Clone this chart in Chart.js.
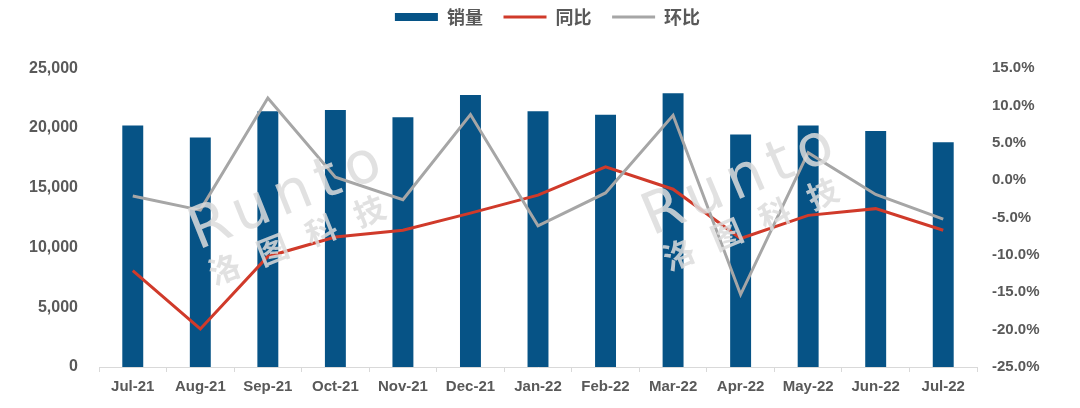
<!DOCTYPE html>
<html>
<head>
<meta charset="utf-8">
<script src="https://cdn.jsdelivr.net/npm/chart.js@4.4.1/dist/chart.umd.min.js"></script>
<style>
html,body{margin:0;padding:0;background:#fff;}
#wrap{width:1080px;height:408px;position:relative;}
</style>
</head>
<body>
<div id="wrap"><canvas id="c" width="1080" height="408"></canvas></div>
<script>
const categories = ['Jul-21','Aug-21','Sep-21','Oct-21','Nov-21','Dec-21','Jan-22','Feb-22','Mar-22','Apr-22','May-22','Jun-22','Jul-22'];
const sales = [20200, 19200, 21400, 21500, 20900, 22750, 21400, 21100, 22900, 19450, 20200, 19750, 18800];
const yoy = [-12.1, -19.9, -10.2, -7.6, -6.7, -4.4, -2.0, 1.8, -1.2, -7.8, -4.7, -3.8, -6.7];
const mom = [-2.1, -4.0, 11.0, 0.4, -2.6, 8.8, -6.1, -1.7, 8.7, -15.3, 3.7, -1.9, -5.2];
const leftTicks = [0, 5000, 10000, 15000, 20000, 25000];
const rightTicks = [-25, -20, -15, -10, -5, 0, 5, 10, 15];

const TXT = '#595959';
const FONT = "'Liberation Sans', Arial, 'Noto Sans CJK SC', sans-serif";

const watermark = {
  id: 'watermark',
  afterDatasetsDraw(chart) {
    const ctx = chart.ctx;
    const marks = [[198, 250, -0.38], [652, 236, -0.40]];
    ctx.save();
    ctx.fillStyle = 'rgba(220,220,220,0.85)';
    for (const [x, y, r] of marks) {
      ctx.save();
      ctx.translate(x, y);
      ctx.rotate(r);
      ctx.font = "normal 58px 'DejaVu Sans', sans-serif";
      ctx.letterSpacing = '8px';
      ctx.textBaseline = 'alphabetic';
      ctx.fillText('Runto', 0, 0);
      ctx.font = "bold 31px 'Noto Sans CJK SC'";
      ctx.letterSpacing = '21px';
      ctx.fillText('洛图科技', 2, 39);
      ctx.restore();
    }
    ctx.restore();
  }
};

const SP = '\u2002\u2009';

new Chart(document.getElementById('c'), {
  data: {
    labels: categories,
    datasets: [
      { type: 'bar', label: '销量', data: sales, backgroundColor: '#065386', borderColor: '#065386', borderWidth: 0,
        barPercentage: 0.62, categoryPercentage: 0.5, yAxisID: 'y', order: 2 },
      { type: 'line', label: '同比', data: yoy, borderColor: '#D03A2A', backgroundColor: '#D03A2A', borderWidth: 3,
        pointRadius: 0, tension: 0, yAxisID: 'y1', order: 1 },
      { type: 'line', label: '环比', data: mom, borderColor: '#A6A6A6', backgroundColor: '#A6A6A6', borderWidth: 3,
        pointRadius: 0, tension: 0, yAxisID: 'y1', order: 0 }
    ]
  },
  options: {
    responsive: false,
    animation: false,
    layout: { padding: { left: 15, right: 0, top: 0, bottom: 0 } },
    plugins: {
      tooltip: { enabled: false },
      legend: {
        position: 'top',
        labels: {
          usePointStyle: true,
          pointStyleWidth: 43,
          boxHeight: 8,
          padding: 8,
          color: TXT,
          font: { family: "'Noto Sans CJK SC', sans-serif", size: 18, weight: 'bold' },
          sort: (a, b) => a.datasetIndex - b.datasetIndex,
          generateLabels(chart) {
            const n = chart.data.datasets.length;
            return chart.data.datasets.map((ds, i) => ({
              text: ds.label + (i < n - 1 ? SP : ''),
              datasetIndex: i,
              fillStyle: ds.backgroundColor,
              strokeStyle: ds.borderColor,
              lineWidth: ds.type === 'bar' ? 0 : 3,
              pointStyle: ds.type === 'bar' ? 'rect' : 'line',
              fontColor: TXT,
              hidden: false
            }));
          }
        }
      },
      subtitle: { display: true, text: ' ', weight: 500, font: { size: 1 }, padding: { top: 0, bottom: 31 } }
    },
    scales: {
      x: {
        grid: { display: true, offset: true, drawOnChartArea: false, drawTicks: true, tickLength: 5, color: '#D9D9D9' },
        border: { display: true, color: '#D9D9D9', width: 1 },
        ticks: { color: TXT, font: { family: FONT, size: 15, weight: 'bold' }, padding: 6, maxRotation: 0, autoSkip: false },
        afterFit(s) { s.height = 41; }
      },
      y: {
        position: 'left',
        min: 0, max: 25000,
        afterBuildTicks(s) { s.ticks = leftTicks.map(v => ({ value: v })); },
        grid: { display: false },
        border: { display: false },
        ticks: { color: TXT, font: { family: FONT, size: 16, weight: 'bold' }, padding: 13,
          callback: v => v.toLocaleString('en-US') },
        afterFit(s) { s.width = 84; }
      },
      y1: {
        position: 'right',
        min: -25, max: 15,
        afterBuildTicks(s) { s.ticks = rightTicks.map(v => ({ value: v })); },
        grid: { display: false },
        border: { display: false },
        ticks: { color: TXT, font: { family: FONT, size: 15, weight: 'bold' }, padding: 7,
          callback: v => v.toFixed(1) + '%' },
        afterFit(s) { s.width = 103; }
      }
    }
  },
  plugins: [watermark]
});
</script>
</body>
</html>
